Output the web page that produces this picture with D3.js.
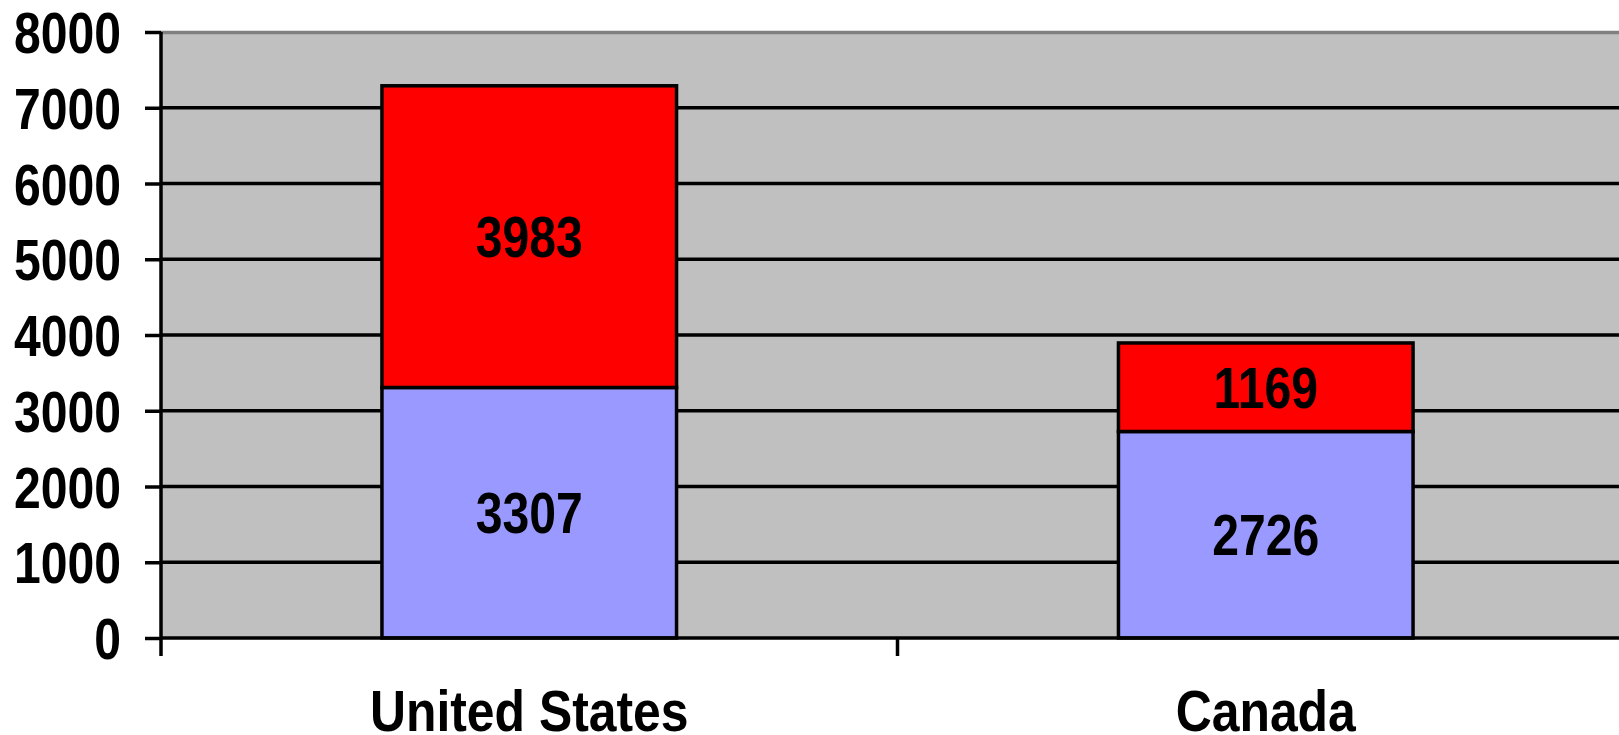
<!DOCTYPE html>
<html>
<head>
<meta charset="utf-8">
<script src="https://cdn.jsdelivr.net/npm/d3@7"></script>
<style>
  html, body { margin: 0; padding: 0; background: #ffffff; }
  svg { display: block; }
  text { font-family: "Liberation Sans", Arial, sans-serif; font-weight: bold; fill: #000; }
</style>
</head>
<body>
<svg id="chart" width="1619" height="735"></svg>
<script>
const categories = ["United States", "Canada"];
const seriesNames = ["Lower", "Upper"];
const lowerValues = [3307, 2726];
const upperValues = [3983, 1169];
const yTicks = [0, 1000, 2000, 3000, 4000, 5000, 6000, 7000, 8000];
const colors = ["#9999FF", "#FF0000"];

const W = 1619, H = 735;
const plot = { left: 161, right: 1634, top: 32, bottom: 638 };
const svg = d3.select("#chart");

const x = d3.scaleBand().domain(categories).range([plot.left, plot.right]).paddingInner(0.6).paddingOuter(0.3);
const band = d3.scaleBand().domain(categories).range([plot.left, plot.right]);
const y = d3.scaleLinear().domain([0, 8000]).range([plot.bottom, plot.top]);

const fs = 58, sx = 0.83, sxCat = 0.86, half = 20.5;

// plot background
svg.append("rect")
  .attr("x", plot.left).attr("y", plot.top)
  .attr("width", W - plot.left).attr("height", plot.bottom - plot.top)
  .attr("fill", "#C0C0C0");

// top border
svg.append("line")
  .attr("x1", plot.left).attr("x2", W)
  .attr("y1", plot.top + 0.5).attr("y2", plot.top + 0.5)
  .attr("stroke", "#808080").attr("stroke-width", 3.5);

// gridlines
svg.append("g").selectAll("line")
  .data(yTicks.filter(d => d > 0 && d < 8000))
  .join("line")
  .attr("x1", plot.left).attr("x2", W)
  .attr("y1", d => y(d)).attr("y2", d => y(d))
  .attr("stroke", "#000").attr("stroke-width", 3.5);

// stacked data
const stackData = categories.map((c, i) => ({ cat: c, Lower: lowerValues[i], Upper: upperValues[i] }));
const stack = d3.stack().keys(seriesNames)(stackData);

const groups = svg.append("g").selectAll("g")
  .data(stack).join("g")
  .attr("fill", (d, i) => colors[i]);

groups.selectAll("rect")
  .data(d => d)
  .join("rect")
  .attr("x", d => x(d.data.cat))
  .attr("width", x.bandwidth())
  .attr("y", d => y(d[1]))
  .attr("height", d => y(d[0]) - y(d[1]))
  .attr("stroke", "#000").attr("stroke-width", 3.5);

// data labels
stack.forEach(layer => {
  svg.append("g").selectAll("text")
    .data(layer).join("text")
    .attr("transform", d => `translate(${x(d.data.cat) + x.bandwidth() / 2},${(y(d[0]) + y(d[1])) / 2 + half}) scale(${sx},1)`)
    .attr("text-anchor", "middle")
    .attr("font-size", fs)
    .text(d => d[1] - d[0]);
});

// y axis
const yAxis = svg.append("g")
  .attr("transform", `translate(${plot.left},0)`)
  .call(d3.axisLeft(y).tickValues(yTicks).tickSize(16).tickPadding(0).tickFormat(d3.format("d")));
yAxis.select(".domain").remove();
yAxis.selectAll(".tick line").attr("stroke", "#000").attr("stroke-width", 3.5);
yAxis.selectAll(".tick text").remove();
yAxis.selectAll(".tick").append("text")
  .attr("transform", `translate(-40,${half}) scale(${sx},1)`)
  .attr("text-anchor", "end")
  .attr("font-size", fs)
  .text(d => d);

svg.append("line")
  .attr("x1", plot.left).attr("x2", plot.left)
  .attr("y1", plot.top).attr("y2", plot.bottom + 18)
  .attr("stroke", "#000").attr("stroke-width", 3.5);

// x axis
svg.append("line")
  .attr("x1", plot.left).attr("x2", W)
  .attr("y1", plot.bottom).attr("y2", plot.bottom)
  .attr("stroke", "#000").attr("stroke-width", 3.5);

// category separator ticks
svg.append("g").selectAll("line")
  .data(categories.slice(1))
  .join("line")
  .attr("x1", d => band(d)).attr("x2", d => band(d))
  .attr("y1", plot.bottom).attr("y2", plot.bottom + 18)
  .attr("stroke", "#000").attr("stroke-width", 3.5);

// category labels
svg.append("g").selectAll("text")
  .data(categories).join("text")
  .attr("transform", d => `translate(${band(d) + band.bandwidth() / 2},731) scale(${sxCat},1)`)
  .attr("text-anchor", "middle")
  .attr("font-size", fs)
  .text(d => d);
</script>
</body>
</html>
